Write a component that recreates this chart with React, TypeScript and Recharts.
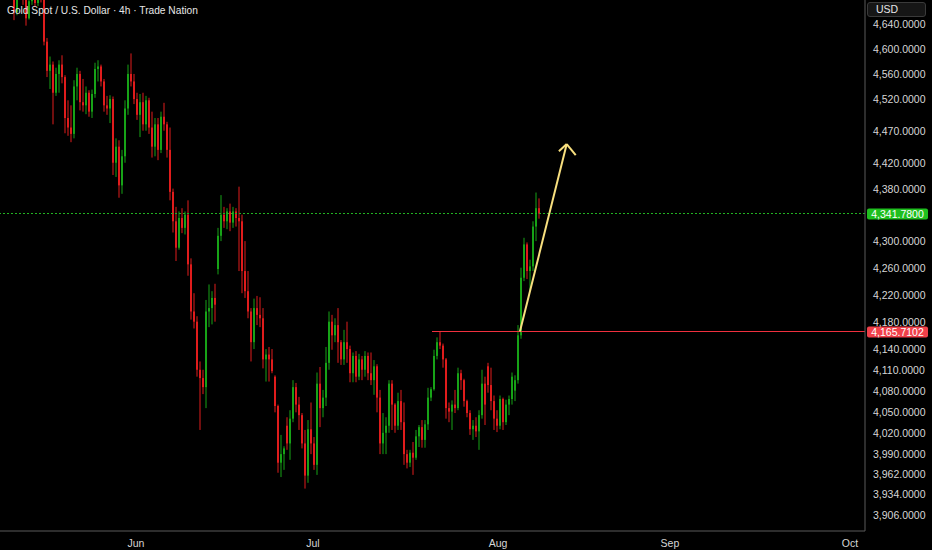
import React from 'react';
import { ComposedChart, Bar, XAxis, YAxis, ReferenceLine } from 'recharts';

// 4h candles (about 3px per candle)
const opens = [
  4700, 4705, 4710, 4702, 4692, 4660, 4688, 4698, 4680, 4650, 4678, 4690, 4675, 4690, 4684, 4612, 4565, 4575, 4530, 4560,
  4575, 4555, 4490, 4475, 4465, 4540, 4560, 4515, 4510, 4530, 4500, 4528, 4568, 4572, 4548, 4510, 4505, 4520, 4420, 4445,
  4385, 4430, 4505, 4560, 4548, 4520, 4495, 4515, 4480, 4518, 4475, 4445, 4480, 4440, 4492, 4480, 4440, 4375, 4330, 4290,
  4335, 4320, 4340, 4265, 4195, 4180, 4110, 4098, 4085, 4195, 4200, 4215, 4258, 4308, 4340, 4330, 4345, 4328, 4345, 4335,
  4330, 4255, 4225, 4195, 4150, 4200, 4190, 4185, 4125, 4132, 4125, 4100, 4058, 3978, 3990, 4030, 4005, 4040, 4085, 4060,
  4045, 4005, 3960, 4025, 4005, 3975, 4090, 4055, 4070, 4120, 4180, 4160, 4175, 4150, 4125, 4150, 4140, 4105, 4130, 4100,
  4125, 4110, 4130, 4105, 4095, 4115, 4070, 4005, 4020, 4030, 4090, 4060, 4030, 4065, 4035, 3990, 3978, 3992, 3985, 4015,
  4028, 4010, 4032, 4070, 4082, 4130, 4150, 4145, 4125, 4055, 4050, 4060, 4055, 4105, 4095, 4065, 4048, 4025, 4030, 4022,
  4045, 4090, 4115, 4088, 4065, 4040, 4030, 4068, 4035, 4060, 4068, 4080, 4095, 4160, 4245, 4295, 4255, 4262, 4322, 4350,
];
const highs = [
  4712, 4718, 4720, 4708, 4700, 4695, 4705, 4705, 4690, 4685, 4700, 4700, 4698, 4702, 4692, 4618, 4588, 4580, 4570, 4582,
  4590, 4558, 4518, 4510, 4550, 4570, 4565, 4552, 4540, 4534, 4535, 4578, 4582, 4575, 4552, 4525, 4526, 4524, 4458, 4455,
  4440, 4518, 4575, 4593, 4560, 4530, 4528, 4530, 4525, 4522, 4500, 4490, 4490, 4500, 4514, 4484, 4475, 4380, 4352, 4345,
  4350, 4345, 4362, 4274, 4222, 4188, 4122, 4110, 4212, 4235, 4225, 4236, 4320, 4370, 4352, 4350, 4357, 4352, 4350, 4383,
  4340, 4300, 4255, 4200, 4214, 4218, 4216, 4200, 4140, 4143, 4140, 4102, 4060, 4017, 4001, 4042, 4052, 4095, 4091, 4071,
  4048, 4024, 4038, 4063, 4014, 4106, 4114, 4081, 4143, 4195, 4190, 4185, 4200, 4153, 4168, 4180, 4145, 4135, 4137, 4133,
  4130, 4137, 4135, 4135, 4124, 4118, 4081, 4048, 4042, 4095, 4095, 4062, 4077, 4081, 4063, 3996, 3996, 4007, 4024, 4031,
  4038, 4038, 4084, 4085, 4139, 4157, 4165.7, 4148, 4127, 4063, 4066, 4081, 4113, 4110, 4097, 4067, 4052, 4038, 4042, 4052,
  4110, 4100, 4120, 4113, 4073, 4052, 4073, 4070, 4067, 4073, 4106, 4102, 4175, 4260, 4305, 4298, 4272, 4330, 4374, 4365,
];
const lows = [
  4690, 4695, 4698, 4685, 4647, 4655, 4680, 4672, 4638, 4648, 4672, 4669, 4670, 4676, 4606, 4555, 4536, 4480, 4525, 4530,
  4545, 4466, 4462, 4452, 4458, 4518, 4502, 4500, 4496, 4492, 4490, 4522, 4548, 4540, 4500, 4495, 4482, 4401, 4398, 4366,
  4372, 4420, 4495, 4540, 4512, 4487, 4460, 4470, 4470, 4465, 4428, 4430, 4424, 4435, 4470, 4428, 4362, 4313, 4270, 4287,
  4312, 4310, 4248, 4183, 4170, 4100, 4024, 4075, 4055, 4172, 4176, 4180, 4250, 4300, 4320, 4318, 4315, 4320, 4322, 4255,
  4222, 4215, 4185, 4122, 4140, 4175, 4172, 4112, 4093, 4093, 4105, 4049, 3964, 3958, 3968, 3996, 3982, 4035, 4049, 4024,
  3998, 3942, 3950, 3990, 3968, 3961, 4028, 4042, 4058, 4110, 4139, 4150, 4120, 4117, 4117, 4120, 4092, 4092, 4092, 4095,
  4095, 4100, 4095, 4088, 4074, 4049, 3990, 3990, 3990, 4020, 4024, 4020, 4024, 4024, 3975, 3970, 3972, 3961, 3982, 4000,
  3999, 3999, 4024, 4065, 4080, 4125, 4140, 4113, 4040, 4035, 4024, 4048, 4052, 4081, 4057, 4042, 4017, 4010, 4014, 3996,
  4040, 4031, 4077, 4052, 4024, 4021, 4025, 4024, 4031, 4045, 4060, 4065, 4090, 4155, 4240, 4243, 4225, 4255, 4300, 4334,
];
const closes = [
  4705, 4710, 4702, 4692, 4660, 4688, 4698, 4680, 4650, 4678, 4690, 4675, 4690, 4684, 4612, 4565, 4575, 4530, 4560, 4575,
  4555, 4490, 4475, 4465, 4540, 4560, 4515, 4510, 4530, 4500, 4528, 4568, 4572, 4548, 4510, 4505, 4520, 4420, 4445, 4385,
  4430, 4505, 4560, 4548, 4520, 4495, 4515, 4480, 4518, 4475, 4445, 4480, 4440, 4492, 4480, 4440, 4375, 4330, 4290, 4335,
  4320, 4340, 4265, 4195, 4180, 4110, 4098, 4085, 4195, 4200, 4215, 4205, 4308, 4340, 4330, 4345, 4328, 4345, 4335, 4330,
  4255, 4225, 4195, 4150, 4200, 4190, 4185, 4125, 4132, 4125, 4108, 4058, 3978, 3990, 3998, 4005, 4040, 4085, 4060, 4045,
  4005, 3960, 4025, 4005, 3975, 4090, 4055, 4070, 4120, 4180, 4160, 4175, 4150, 4125, 4150, 4140, 4105, 4130, 4100, 4125,
  4110, 4130, 4105, 4095, 4115, 4070, 4005, 4020, 4030, 4090, 4060, 4030, 4065, 4035, 3990, 3978, 3992, 3985, 4015, 4028,
  4010, 4032, 4070, 4082, 4130, 4150, 4145, 4125, 4055, 4050, 4060, 4055, 4105, 4095, 4065, 4048, 4025, 4030, 4022, 4045,
  4090, 4060, 4088, 4065, 4040, 4030, 4068, 4035, 4060, 4068, 4100, 4095, 4160, 4245, 4295, 4255, 4262, 4322, 4350, 4341.78,
];

const priceTicks = [3906, 3934, 3962, 3990, 4020, 4050, 4080, 4110, 4140, 4180, 4220, 4260, 4300, 4380, 4420, 4470, 4520, 4560, 4600, 4640];
const monthTicks = [45.3, 104.3, 166, 223.3, 283.3];
const monthLabels = ['Jun', 'Jul', 'Aug', 'Sep', 'Oct'];

const lastPrice = 4341.78;
const resistance = 4165.7102;
const resistanceFrom = 144;
// arrow: tail, tip, left wing, right wing
const arrowX = [173.3, 188.9, 186.3, 191.9];
const arrowY = [4165.7, 4449, 4438, 4432];

const UP = '#17a317';
const DOWN = '#e01c1c';
const TEXT = '#d6d6d6';
const FONT = '"Liberation Sans", Arial, sans-serif';

const data = opens.map((o, i) => ({ x: i + 0.5, o, h: highs[i], l: lows[i], c: closes[i] }));

const fmt = (v: number) =>
  v.toLocaleString('en-US', { minimumFractionDigits: 4, maximumFractionDigits: 4 });

function Candle(props: any) {
  const { x, y, width, height, payload } = props;
  const { o, h, l, c } = payload;
  const top = Math.min(y, y + height);
  const bottom = Math.max(y, y + height);
  const span = Math.log(h) - Math.log(l);
  // the price axis is logarithmic
  const py = (p: number) => (span > 0 ? top + ((bottom - top) * (Math.log(h) - Math.log(p))) / span : top);
  const color = c >= o ? UP : DOWN;
  const cx = x + width / 2;
  const bTop = Math.min(py(o), py(c));
  const bH = Math.max(Math.abs(py(o) - py(c)), 1);
  return (
    <g>
      <line x1={cx} x2={cx} y1={top} y2={bottom} stroke={color} strokeWidth={1} />
      <rect x={x} y={bTop} width={width} height={bH} fill={color} />
    </g>
  );
}

function PriceTick(props: any) {
  const { x, y, payload } = props;
  return (
    <text x={x} y={y} fill={TEXT} fontSize={10.5} fontFamily={FONT} textAnchor="start" dominantBaseline="central">
      {fmt(payload.value)}
    </text>
  );
}

function MonthTick(props: any) {
  const { x, y, payload } = props;
  const i = monthTicks.indexOf(payload.value);
  return (
    <text x={x} y={y + 14} fill={TEXT} fontSize={10.5} fontFamily={FONT} textAnchor="middle">
      {monthLabels[i]}
    </text>
  );
}

const priceTag = (fill: string, value: number) => (props: any) => {
  const { x, y, width } = props.viewBox;
  return (
    <g>
      <rect x={x + width + 2} y={y - 5} width={61} height={11} rx={2} fill={fill} />
      <text x={x + width + 32.5} y={y + 0.5} fill="#ffffff" fontSize={10.5} fontFamily={FONT} textAnchor="middle" dominantBaseline="central">
        {fmt(value)}
      </text>
    </g>
  );
};

export default function App() {
  return (
    <div style={{ position: 'relative', width: 932, height: 550, background: '#000' }}>
      <style>{'body{margin:0;background:#000}'}</style>
      <ComposedChart width={932} height={550} data={data} margin={{ top: 0, right: 0, bottom: 0, left: 0 }}>
        <XAxis
          dataKey="x"
          type="number"
          domain={[0, 288.33]}
          allowDataOverflow
          ticks={monthTicks}
          interval={0}
          tick={<MonthTick />}
          tickLine={false}
          tickSize={0}
          height={19}
          axisLine={{ stroke: '#5a5a5a' }}
        />
        <YAxis
          orientation="right"
          scale="log"
          domain={[3883.7, 4680]}
          allowDataOverflow
          ticks={priceTicks}
          interval={0}
          tick={<PriceTick />}
          tickLine={false}
          width={67}
          axisLine={{ stroke: '#5a5a5a' }}
        />
        <ReferenceLine
          y={lastPrice}
          stroke="#22b422"
          strokeDasharray="2 2"
          shapeRendering="crispEdges"
          label={priceTag('#1fbf1f', lastPrice)}
        />
        <ReferenceLine y={resistance} stroke="none" label={priceTag('#f0404a', resistance)} />
        <ReferenceLine
          segment={[{ x: resistanceFrom, y: resistance }, { x: 288.33, y: resistance }]}
          stroke="#f0303e"
          strokeWidth={1}
          shapeRendering="crispEdges"
        />
        <Bar dataKey={(d: any) => [d.l, d.h]} barSize={2} shape={<Candle />} isAnimationActive={false} />
        <ReferenceLine
          segment={[{ x: arrowX[0], y: arrowY[0] }, { x: arrowX[1], y: arrowY[1] }]}
          stroke="#f8df7e"
          strokeWidth={2}
          ifOverflow="visible"
        />
        <ReferenceLine
          segment={[{ x: arrowX[1], y: arrowY[1] }, { x: arrowX[2], y: arrowY[2] }]}
          stroke="#f8df7e"
          strokeWidth={2}
          ifOverflow="visible"
        />
        <ReferenceLine
          segment={[{ x: arrowX[1], y: arrowY[1] }, { x: arrowX[3], y: arrowY[3] }]}
          stroke="#f8df7e"
          strokeWidth={2}
          ifOverflow="visible"
        />
      </ComposedChart>
      <div
        style={{
          position: 'absolute', left: 7, top: 4, color: '#e6e6e6', fontFamily: FONT, fontSize: 10.2,
          whiteSpace: 'nowrap', lineHeight: '14px',
        }}
      >
        Gold Spot / U.S. Dollar · 4h · Trade Nation
      </div>
      <div
        style={{
          position: 'absolute', left: 867, top: 2, width: 59, height: 15, borderRadius: 3,
          background: '#161616', border: '1px solid #3a3a3a', color: '#e6e6e6', fontFamily: FONT,
          fontSize: 10.5, lineHeight: '13px', paddingLeft: 8, boxSizing: 'border-box',
        }}
      >
        USD
      </div>
    </div>
  );
}
